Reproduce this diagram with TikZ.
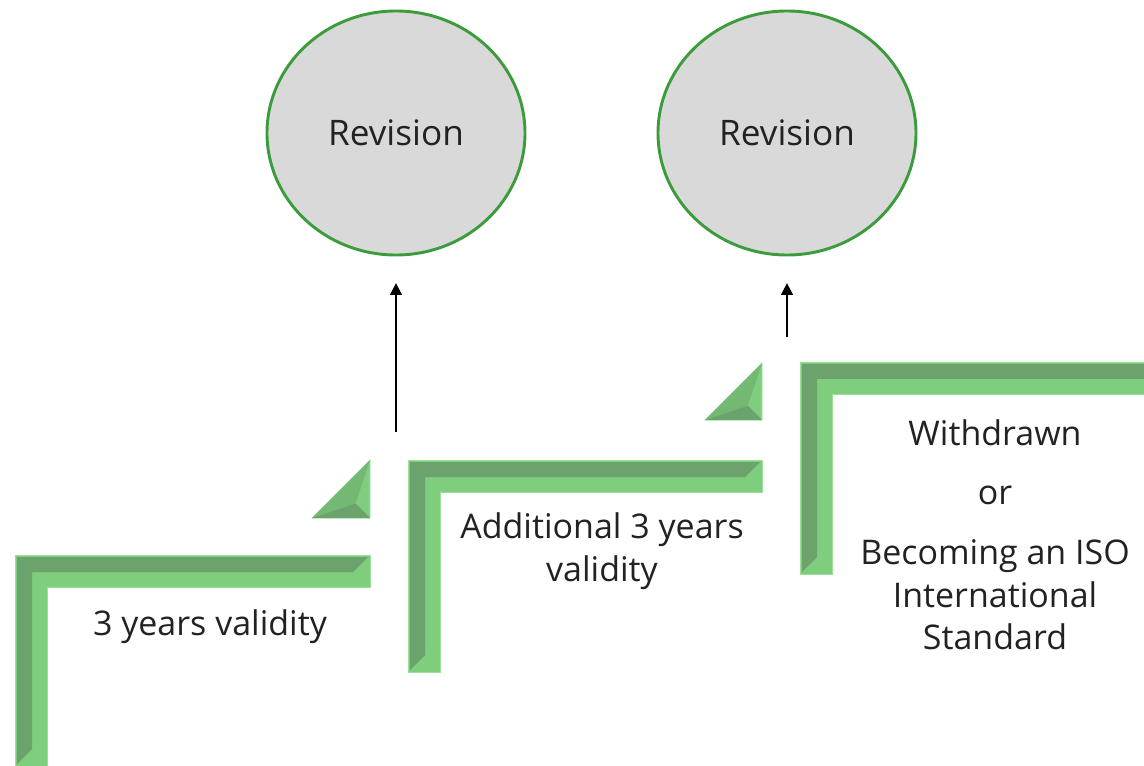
\documentclass[tikz,border=0pt]{standalone}
\usepackage{fontspec}
\setmainfont{Open Sans}
\usetikzlibrary{arrows.meta,shapes.geometric}
\definecolor{barlight}{HTML}{7ECE7E}
\definecolor{barmid}{HTML}{73B873}
\definecolor{bardark}{HTML}{6CA36C}
\definecolor{barglow}{HTML}{9ADF9A}
\definecolor{ringgreen}{HTML}{3C9C3C}
\definecolor{revfill}{HTML}{D9D9D9}
\definecolor{txt}{HTML}{222222}
% bevelled L bar: outer corner (x,y), right end, bottom end
\def\bevelL(#1,#2)(#3,#4){%
	\filldraw[barlight, draw=barglow, line width=0.6pt] (#1,#2) -- (#3,#2) -- (#3,#2+32) -- (#1+32,#2+32) -- (#1+32,#4) -- (#1,#4) -- cycle;
	\fill[bardark] (#1+2,#2+2) -- (#3-2,#2+2) -- (#3-17,#2+17) -- (#1+17,#2+17) -- (#1+17,#4-17) -- (#1+2,#4-2) -- cycle;}
% bevelled wedge: right edge x, top y, size
\def\bevelT(#1,#2)(#3){%
	\filldraw[barlight, draw=barglow, line width=0.6pt] (#1,#2) -- (#1-#3,#2+#3) -- (#1,#2+#3) -- cycle;
	\fill[barmid] (#1,#2) -- (#1-#3,#2+#3) -- (#1-0.25*#3,#2+0.75*#3) -- cycle;
	\fill[bardark] (#1-#3,#2+#3) -- (#1,#2+#3) -- (#1-0.25*#3,#2+0.75*#3) -- cycle;}

\begin{document}
\begin{tikzpicture}[x=0.03cm, y=-0.03cm,
	revision/.style={ellipse, draw=ringgreen, line width=2.5pt, fill=revfill, inner sep=0pt,
		minimum width=7.74cm, minimum height=7.32cm, text=txt, font=\fontsize{30}{36}\selectfont},
	label/.style={text=txt, align=center, font=\fontsize{29}{36.5}\selectfont},
	uparrow/.style={line width=1.6pt, -{Triangle[length=10pt,width=10pt]}, shorten >=0.8cm}]
	%%%%% START %%%%%
	\useasboundingbox (0,0) rectangle (1144,766);
	\clip (0,0) rectangle (1144,766);
	
	\bevelL(15,555)(370,766)
	\bevelL(408,460)(762,672)
	\bevelL(800,362)(1170,574)
	\bevelT(370,460)(58)
	\bevelT(762,363)(57)
	
	\node[revision] (rev1) at (396,133) {Revision};
	\node[revision] (rev2) at (787,133) {Revision};
	
	\coordinate (up1) at (396,432);
	\coordinate (up2) at (787,337);
	\draw[uparrow] (up1) -- (rev1.south);
	\draw[uparrow] (up2) -- (rev2.south);
	
	\node[label] (valid1) at (210,627) {3 years validity};
	\node[label] (valid2) at (602,551) {Additional 3 years\\validity};
	\node[label] (final) at (995,535) {Withdrawn\\[0.5cm]or\\[0.5cm]Becoming an ISO\\International\\Standard};
	%%%%% END %%%%%
\end{tikzpicture}
\end{document}
